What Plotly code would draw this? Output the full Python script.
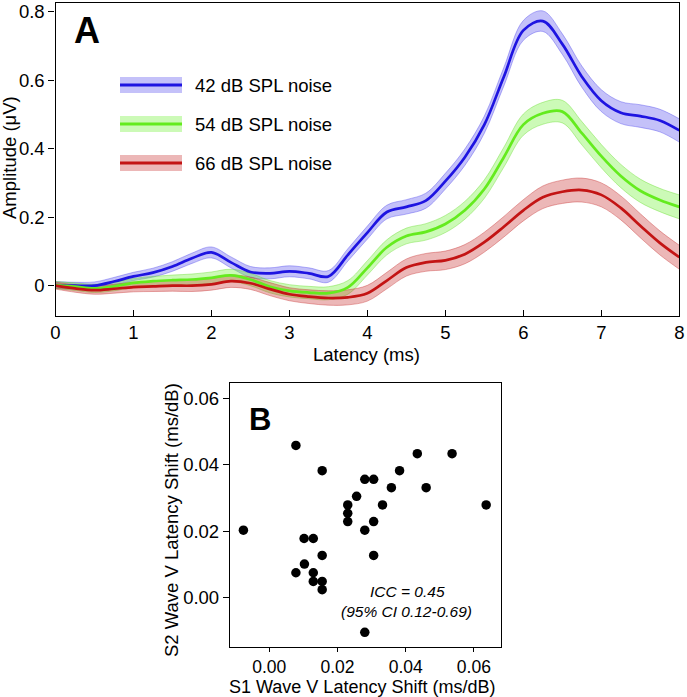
import plotly.graph_objects as go

W, H = 687, 697

# ---------------- Panel A data ----------------
latency = [0.0, 0.25, 0.5, 0.75, 1.0, 1.25, 1.5, 1.75, 2.0, 2.25, 2.5, 2.75,
           3.0, 3.25, 3.5, 3.75, 4.0, 4.25, 4.5, 4.75, 5.0, 5.25, 5.5, 5.75,
           6.0, 6.25, 6.5, 6.75, 7.0, 7.25, 7.5, 7.75, 8.0]

amp_42 = [0.002, 0.000, 0.000, 0.012, 0.027, 0.038, 0.056, 0.080, 0.097, 0.068,
          0.040, 0.036, 0.042, 0.036, 0.027, 0.090, 0.155, 0.215, 0.230, 0.248,
          0.305, 0.375, 0.470, 0.610, 0.745, 0.772, 0.705, 0.610, 0.540, 0.505,
          0.495, 0.482, 0.453]
sem_42 = [0.010, 0.010, 0.011, 0.012, 0.012, 0.013, 0.014, 0.015, 0.016, 0.016,
          0.016, 0.016, 0.016, 0.016, 0.017, 0.018, 0.019, 0.020, 0.021, 0.022,
          0.023, 0.024, 0.025, 0.027, 0.029, 0.030, 0.030, 0.031, 0.032, 0.032,
          0.033, 0.033, 0.034]

amp_54 = [0.002, -0.003, -0.008, -0.002, 0.008, 0.013, 0.016, 0.018, 0.023, 0.030,
          0.018, -0.003, -0.015, -0.020, -0.022, -0.005, 0.052, 0.112, 0.145, 0.157,
          0.180, 0.220, 0.282, 0.375, 0.470, 0.503, 0.508, 0.445, 0.378, 0.320,
          0.277, 0.250, 0.230]
sem_54 = [0.010, 0.011, 0.012, 0.013, 0.013, 0.014, 0.015, 0.016, 0.017, 0.018,
          0.018, 0.018, 0.018, 0.018, 0.019, 0.020, 0.021, 0.022, 0.023, 0.024,
          0.025, 0.026, 0.027, 0.029, 0.031, 0.032, 0.033, 0.034, 0.034, 0.034,
          0.034, 0.034, 0.035]

amp_66 = [0.000, -0.008, -0.013, -0.009, -0.004, -0.002, 0.000, 0.000, 0.004, 0.013,
          0.007, -0.010, -0.025, -0.032, -0.036, -0.034, -0.022, 0.015, 0.053, 0.068,
          0.074, 0.092, 0.127, 0.172, 0.220, 0.258, 0.274, 0.279, 0.265, 0.227,
          0.175, 0.125, 0.083]
sem_66 = [0.010, 0.011, 0.012, 0.013, 0.014, 0.015, 0.016, 0.017, 0.017, 0.018,
          0.018, 0.019, 0.019, 0.020, 0.021, 0.022, 0.023, 0.024, 0.025, 0.026,
          0.027, 0.028, 0.029, 0.030, 0.031, 0.033, 0.034, 0.035, 0.035, 0.035,
          0.035, 0.035, 0.035]

series_names = ["42 dB SPL noise", "54 dB SPL noise", "66 dB SPL noise"]
line_colors = ["rgb(30,20,225)", "rgb(100,235,30)", "rgb(195,20,20)"]
band_colors = ["rgba(60,50,235,0.30)", "rgba(110,240,50,0.35)", "rgba(200,50,50,0.35)"]
edge_colors = ["rgba(60,50,235,0.45)", "rgba(100,220,40,0.50)", "rgba(200,50,50,0.50)"]

# ---------------- Panel B data ----------------
s1_shift = [0.0078, 0.0155, 0.0280, 0.0306, 0.0434, 0.0536, 0.0382, 0.0358, 0.0460,
            0.0256, 0.0230, 0.0332, 0.0636, 0.0230, 0.0230, 0.0306, -0.0076, 0.0280,
            0.0102, 0.0129, 0.0155, 0.0306, 0.0103, 0.0078, 0.0129, 0.0129, 0.0155,
            0.0155, 0.0280]
s2_shift = [0.0458, 0.0382, 0.0356, 0.0356, 0.0433, 0.0433, 0.0382, 0.0331, 0.0331,
            0.0305, 0.0279, 0.0279, 0.0279, 0.0254, 0.0229, 0.0229, 0.0203, 0.0203,
            0.0178, 0.0178, 0.0127, 0.0127, 0.0101, 0.0075, 0.0075, 0.0049, 0.0049,
            0.0024, -0.0104]

FONT = "Liberation Sans, Arial, sans-serif"
FS = 18.5

fig = go.Figure()

for name, amp, sem, lc, bc, ec in zip(series_names, [amp_42, amp_54, amp_66],
                                      [sem_42, sem_54, sem_66],
                                      line_colors, band_colors, edge_colors):
    upper = [a + s for a, s in zip(amp, sem)]
    lower = [a - s for a, s in zip(amp, sem)]
    fig.add_trace(go.Scatter(x=latency, y=lower, mode="lines",
                             line=dict(color=ec, width=0.8, shape="spline", smoothing=1.0),
                             showlegend=False, hoverinfo="skip", xaxis="x", yaxis="y"))
    fig.add_trace(go.Scatter(x=latency, y=upper, mode="lines", fill="tonexty",
                             fillcolor=bc,
                             line=dict(color=ec, width=0.8, shape="spline", smoothing=1.0),
                             showlegend=False, hoverinfo="skip", xaxis="x", yaxis="y"))
for name, amp, lc in zip(series_names, [amp_42, amp_54, amp_66], line_colors):
    fig.add_trace(go.Scatter(x=latency, y=amp, mode="lines", name=name,
                             line=dict(color=lc, width=2.7, shape="spline", smoothing=1.0),
                             showlegend=False, xaxis="x", yaxis="y"))

fig.add_trace(go.Scatter(x=s1_shift, y=s2_shift, mode="markers",
                         marker=dict(color="black", size=9.5),
                         showlegend=False, xaxis="x2", yaxis="y2"))

def px(x):
    return x / W

def py(y):
    return 1 - y / H

axis_base = dict(showline=True, linecolor="black", linewidth=1.3, mirror=True,
                 showgrid=False, zeroline=False, tickwidth=1.2, automargin=False,
                 tickcolor="black")

fig.update_layout(
    template="none",
    width=W, height=H,
    margin=dict(l=0, r=0, t=0, b=0, pad=0),
    paper_bgcolor="white", plot_bgcolor="white",
    showlegend=False,
    xaxis=dict(domain=[px(55.5), px(679.3)], range=[0, 8], anchor="y",
               tickvals=[0, 1, 2, 3, 4, 5, 6, 7, 8], ticks="inside", ticklen=6,
               tickfont=dict(family=FONT, size=FS, color="black"), **axis_base),
    yaxis=dict(domain=[py(316), py(3)], range=[-0.0885, 0.825], anchor="x",
               tickvals=[0, 0.2, 0.4, 0.6, 0.8], ticktext=["0", "0.2", "0.4", "0.6", "0.8"],
               ticks="outside", ticklen=6,
               tickfont=dict(family=FONT, size=FS, color="black"), **axis_base),
    xaxis2=dict(domain=[px(230), px(500.7)], range=[-0.01153, 0.06786], anchor="y2",
                tickvals=[0.0, 0.02, 0.04, 0.06], tickformat=".2f",
                ticks="outside", ticklen=4,
                tickfont=dict(family=FONT, size=17.5, color="black"), **axis_base),
    yaxis2=dict(domain=[py(646.7), py(383)], range=[-0.01474, 0.06457], anchor="x2",
                tickvals=[0.0, 0.02, 0.04, 0.06], tickformat=".2f",
                ticks="outside", ticklen=6,
                tickfont=dict(family=FONT, size=FS, color="black"), **axis_base),
)

annotations = [
    dict(text="<b>A</b>", x=px(87), y=py(30), font=dict(family=FONT, size=36, color="black")),
    dict(text="<b>B</b>", x=px(260), y=py(419), font=dict(family=FONT, size=31, color="black")),
    dict(text="Latency (ms)", x=px(367), y=py(355), font=dict(family=FONT, size=FS, color="black")),
    dict(text="Amplitude (\u03bcV)", x=px(9), y=py(158), textangle=-90,
         font=dict(family=FONT, size=FS, color="black")),
    dict(text="S1 Wave V Latency Shift (ms/dB)", x=px(362), y=py(686.5),
         font=dict(family=FONT, size=18, color="black")),
    dict(text="S2 Wave V Latency Shift (ms/dB)", x=px(171), y=py(520), textangle=-90,
         font=dict(family=FONT, size=FS, color="black")),
    dict(text="<i>ICC = 0.45</i>", x=px(407), y=py(591.5),
         font=dict(family=FONT, size=15.5, color="black")),
    dict(text="<i>(95% CI 0.12-0.69)</i>", x=px(406), y=py(611),
         font=dict(family=FONT, size=15.5, color="black")),
]
for a in annotations:
    a.update(xref="paper", yref="paper", showarrow=False, xanchor="center", yanchor="middle")
fig.update_layout(annotations=annotations)

shapes = []
leg_y = [85, 124, 163]
for i, (name, lc, bc) in enumerate(zip(series_names, line_colors, band_colors)):
    yc = leg_y[i]
    shapes.append(dict(type="rect", xref="paper", yref="paper",
                       x0=px(120), x1=px(182), y0=py(yc + 8), y1=py(yc - 8),
                       fillcolor=bc, line=dict(width=0)))
    shapes.append(dict(type="line", xref="paper", yref="paper",
                       x0=px(120), x1=px(182), y0=py(yc), y1=py(yc),
                       line=dict(color=lc, width=3)))
    fig.add_annotation(text=name, x=px(193), y=py(yc), xref="paper", yref="paper",
                       showarrow=False, xanchor="left", yanchor="middle",
                       font=dict(family=FONT, size=FS, color="black"))
fig.update_layout(shapes=shapes)

fig.write_html("out.html", config={"displayModeBar": False})

# remove the browser's default page margin so the figure sits at the window's corner
with open("out.html", "r", encoding="utf-8") as f:
    html = f.read()
html = html.replace("<head>", "<head><style>html,body{margin:0;padding:0;overflow:hidden;}</style>", 1)
with open("out.html", "w", encoding="utf-8") as f:
    f.write(html)
